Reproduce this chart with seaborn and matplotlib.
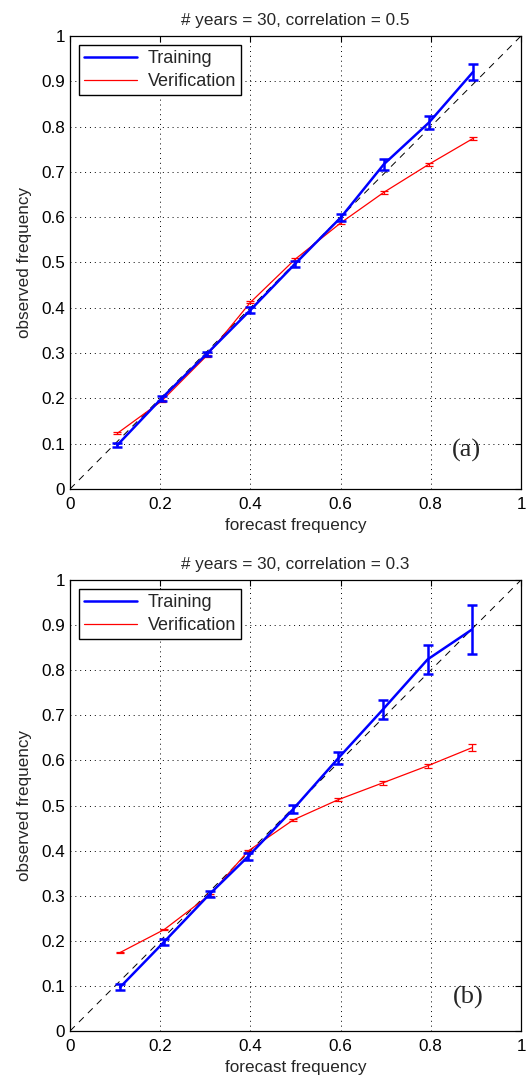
import numpy as np
import pandas as pd
import matplotlib
matplotlib.use("Agg")
import matplotlib.pyplot as plt
from matplotlib.ticker import FuncFormatter
import seaborn as sns

# =========================
# 数据
# =========================
fc_a = [0.105, 0.203, 0.303, 0.400, 0.499, 0.601, 0.696, 0.796, 0.894]
train_a = [0.097, 0.200, 0.298, 0.395, 0.497, 0.600, 0.717, 0.809, 0.921]
train_err_a = [0.005, 0.005, 0.005, 0.006, 0.007, 0.008, 0.012, 0.015, 0.018]
verif_a = [0.123, 0.194, 0.294, 0.412, 0.507, 0.588, 0.655, 0.717, 0.774]
verif_err_a = [0.002, 0.002, 0.002, 0.002, 0.003, 0.003, 0.003, 0.003, 0.004]

fc_b = [0.111, 0.209, 0.310, 0.395, 0.495, 0.595, 0.693, 0.793, 0.891]
train_b = [0.097, 0.198, 0.304, 0.387, 0.492, 0.605, 0.712, 0.824, 0.890]
train_err_b = [0.007, 0.007, 0.006, 0.007, 0.009, 0.013, 0.021, 0.032, 0.055]
verif_b = [0.174, 0.225, 0.302, 0.399, 0.468, 0.513, 0.550, 0.588, 0.628]
verif_err_b = [0.002, 0.002, 0.002, 0.002, 0.003, 0.003, 0.004, 0.005, 0.008]

titles = ["# years = 30, correlation = 0.5", "# years = 30, correlation = 0.3"]
panel_tags = ["(a)", "(b)"]
tag_pos = [(0.847, 0.086), (0.85, 0.075)]

# =========================
# 全局设置
# =========================
sns.set_style("white")
plt.rcParams["font.family"] = ["Liberation Sans", "DejaVu Sans"]
plt.rcParams["xtick.direction"] = "in"
plt.rcParams["ytick.direction"] = "in"
plt.rcParams["xtick.top"] = True
plt.rcParams["ytick.right"] = True

fig = plt.figure(figsize=(5.29, 10.8), dpi=100)
W, H = 529.0, 1080.0
ax_a = fig.add_axes([70 / W, 1 - 489 / H, 451 / W, 453 / H])
ax_b = fig.add_axes([70 / W, 1 - 1031 / H, 451 / W, 451 / H])

panels = [
    (ax_a, fc_a, train_a, train_err_a, verif_a, verif_err_a),
    (ax_b, fc_b, train_b, train_err_b, verif_b, verif_err_b),
]

fmt = FuncFormatter(lambda v, p: "%g" % round(v, 2))
FS = 12.3

for i, (ax, fc, tr, tr_e, ve, ve_e) in enumerate(panels):
    df = pd.DataFrame({"fc": fc, "train": tr, "verif": ve})

    # 对角参考线
    ax.plot([0, 1], [0, 1], color="black", linestyle=(0, (7, 6)), linewidth=0.7, zorder=1)

    sns.lineplot(data=df, x="fc", y="train", color="blue", linewidth=1.8,
                 label="Training", ax=ax, zorder=3)
    sns.lineplot(data=df, x="fc", y="verif", color="red", linewidth=0.9,
                 label="Verification", ax=ax, zorder=2)
    ax.errorbar(fc, tr, yerr=tr_e, fmt="none", ecolor="blue", elinewidth=1.8,
                capsize=3.5, capthick=1.8, zorder=3)
    ax.errorbar(fc, ve, yerr=ve_e, fmt="none", ecolor="red", elinewidth=0.9,
                capsize=3, capthick=0.9, zorder=2)

    ax.set_xlim(0, 1)
    ax.set_ylim(0, 1)
    ax.set_xticks(np.arange(0, 1.01, 0.2))
    ax.set_yticks(np.arange(0, 1.01, 0.1))
    ax.xaxis.set_major_formatter(fmt)
    ax.yaxis.set_major_formatter(fmt)
    ax.grid(True, color="black", linestyle=(0, (1, 4)), linewidth=0.7)
    ax.tick_params(labelsize=FS, length=4, width=0.8, colors="black")
    ax.tick_params(axis="x", pad=6)
    for s in ax.spines.values():
        s.set_color("black")
        s.set_linewidth(0.9)

    ax.set_xlabel("forecast frequency", fontsize=FS, labelpad=4)
    ax.set_ylabel("observed frequency", fontsize=FS, labelpad=7)
    ax.set_title(titles[i], fontsize=FS, pad=8)

    ax.text(tag_pos[i][0], tag_pos[i][1], panel_tags[i], transform=ax.transAxes, fontsize=19,
            family=["Liberation Serif", "DejaVu Serif"], ha="left", va="center")

    leg = ax.legend(loc="upper left", fontsize=13, frameon=True, fancybox=False,
                    borderpad=0.3, handlelength=2.9, handletextpad=0.6,
                    labelspacing=0.3, borderaxespad=0.5)
    leg.get_frame().set_edgecolor("black")
    leg.get_frame().set_linewidth(1.0)
    leg.get_frame().set_alpha(1)

fig.savefig("out.png", dpi=100)
